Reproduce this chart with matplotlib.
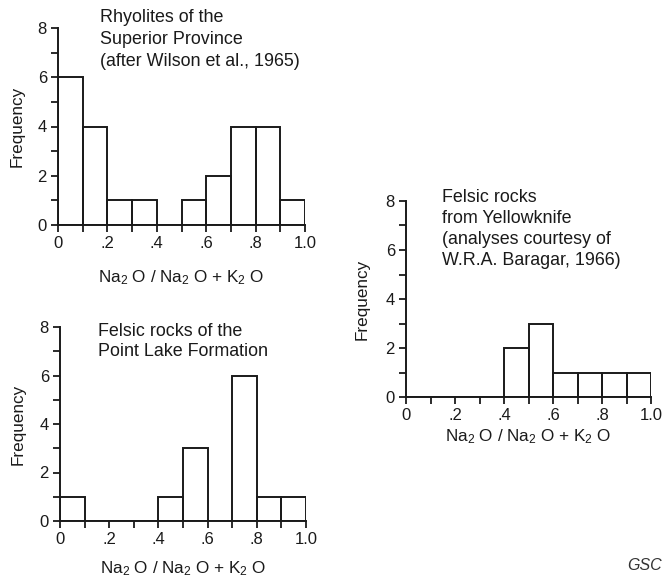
import matplotlib.pyplot as plt
import numpy as np
from matplotlib.ticker import MultipleLocator, FixedLocator, FixedFormatter

plt.rcParams['font.family'] = ['Liberation Sans', 'DejaVu Sans']
plt.rcParams['mathtext.fontset'] = 'custom'
plt.rcParams['mathtext.rm'] = 'Liberation Sans'
plt.rcParams['mathtext.it'] = 'Liberation Sans:italic'

INK = '#1a1a1a'
W, H = 663, 577

# bin edges and counts for the three histograms
edges = [0.0, 0.1, 0.2, 0.3, 0.4, 0.5, 0.6, 0.7, 0.8, 0.9, 1.0]
superior = [6, 4, 1, 1, 0, 1, 2, 4, 4, 1]
point_lake = [1, 0, 0, 0, 1, 3, 0, 6, 1, 1]
yellowknife = [0, 0, 0, 0, 2, 3, 1, 1, 1, 1]

xticks = [0, 0.2, 0.4, 0.6, 0.8, 1.0]
xticklabels = ['0', '.2', '.4', '.6', '.8', '1.0']
yticks = [0, 2, 4, 6, 8]

title_superior = ['Rhyolites of the', 'Superior Province', '(after Wilson et al., 1965)']
title_point = ['Felsic rocks of the', 'Point Lake Formation']
title_yk = ['Felsic rocks', 'from Yellowknife', '(analyses courtesy of', 'W.R.A. Baragar, 1966)']

xlab = r'Na$_2$ O / Na$_2$ O + K$_2$ O'


def px(x0, y0, x1, y1):
    # pixel box -> figure fraction rect
    return [x0 / W, 1 - y1 / H, (x1 - x0) / W, (y1 - y0) / H]


def hist_panel(fig, rect, counts, title, tx, ty, dy, ylab_x, xlab_y):
    ax = fig.add_axes(rect)
    ax.bar(edges[:-1], counts, width=0.1, align='edge', fill=False,
           edgecolor=INK, linewidth=1.4, zorder=3)
    ax.set_xlim(0, 1.0)
    ax.set_ylim(0, 8)
    for s in ['top', 'right']:
        ax.spines[s].set_visible(False)
    for s in ['left', 'bottom']:
        ax.spines[s].set_linewidth(1.4)
        ax.spines[s].set_color(INK)
    ax.xaxis.set_major_locator(FixedLocator(xticks))
    ax.xaxis.set_major_formatter(FixedFormatter(xticklabels))
    ax.xaxis.set_minor_locator(MultipleLocator(0.1))
    ax.yaxis.set_major_locator(FixedLocator(yticks))
    ax.yaxis.set_minor_locator(MultipleLocator(1))
    ax.tick_params(which='both', direction='out', width=1.3, color=INK,
                   labelsize=12, labelcolor=INK)
    ax.tick_params(which='major', length=5, pad=3)
    ax.tick_params(which='minor', length=5)
    ax.set_ylabel('Frequency', fontsize=12.3, color=INK)
    ax.yaxis.set_label_coords(ylab_x, 0.5)
    ax.text(0.5, xlab_y, xlab, transform=ax.transAxes, ha='center',
            va='center', fontsize=12.3, color=INK)
    for i, line in enumerate(title):
        fig.text(tx / W, 1 - (ty + i * dy) / H, line, ha='left', va='center',
                 fontsize=12.9, color=INK)
    return ax


fig = plt.figure(figsize=(W / 100, H / 100), dpi=100)

hist_panel(fig, px(58, 28, 305, 225), superior, title_superior,
           100, 18, 22, -0.134, -0.265)
hist_panel(fig, px(60, 327, 306, 521), point_lake, title_point,
           98, 332, 20, -0.138, -0.245)
hist_panel(fig, px(406, 201, 651, 397), yellowknife, title_yk,
           442, 197, 21.3, -0.147, -0.2)

fig.text(627 / W, 1 - 565 / H, 'GSC', style='italic', fontsize=11.5,
         color='#333333', ha='left', va='center')

fig.savefig('out.png', dpi=100)
